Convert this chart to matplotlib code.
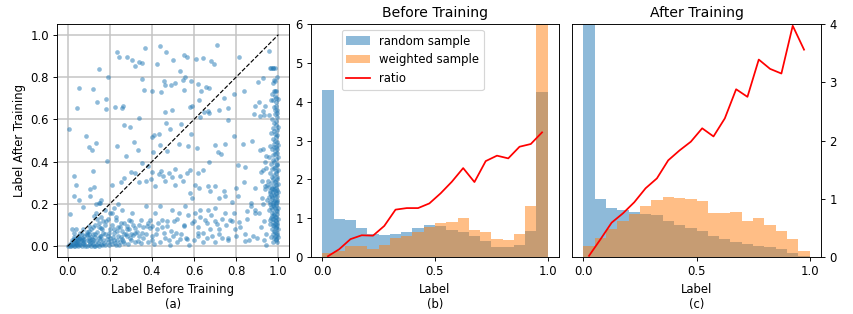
import numpy as np
import matplotlib
matplotlib.use("Agg")
from matplotlib import pyplot as plt

# bin edges shared by both histograms (20 bins over [0, 1])
bin_edges = np.linspace(0, 1, 21)

# before training: density of random / weighted sample and their ratio
before_random = [4.31, 0.98, 0.95, 0.75, 0.58, 0.57, 0.59, 0.64, 0.75, 0.83,
                 0.80, 0.70, 0.65, 0.55, 0.40, 0.27, 0.27, 0.31, 0.68, 4.26]
before_weighted = [0.10, 0.15, 0.29, 0.29, 0.21, 0.31, 0.50, 0.55, 0.65, 0.76,
                   0.88, 0.91, 1.01, 0.70, 0.65, 0.47, 0.44, 0.60, 1.32, 9.21]
before_ratio = [0.02, 0.20, 0.46, 0.56, 0.55, 0.80, 1.22, 1.26, 1.26, 1.38,
                1.64, 1.94, 2.29, 1.93, 2.47, 2.61, 2.54, 2.84, 2.91, 3.21]

# after training
after_random = [11.28, 1.00, 0.84, 0.81, 0.77, 0.74, 0.72, 0.62, 0.55, 0.50,
                0.44, 0.36, 0.31, 0.26, 0.22, 0.19, 0.17, 0.14, 0.07, 0.01]
after_weighted = [0.19, 0.33, 0.48, 0.61, 0.74, 0.88, 0.98, 1.03, 1.01, 1.00,
                  0.96, 0.76, 0.76, 0.77, 0.62, 0.67, 0.55, 0.45, 0.31, 0.10]
after_ratio = [0.02, 0.30, 0.59, 0.75, 0.94, 1.18, 1.35, 1.66, 1.83, 1.98,
               2.21, 2.07, 2.38, 2.88, 2.75, 3.39, 3.23, 3.15, 3.97, 3.56]

# label of each sample before vs after training
scatter_pts = [
    # upper area
    (0.236, 0.917), (0.244, 0.896), (0.280, 0.892), (0.307, 0.881), (0.322, 0.852),
    (0.341, 0.873), (0.355, 0.865), (0.365, 0.939), (0.437, 0.945), (0.425, 0.860),
    (0.469, 0.917), (0.498, 0.881), (0.552, 0.904), (0.568, 0.896), (0.608, 0.885),
    (0.643, 0.889), (0.679, 0.876), (0.696, 0.860), (0.709, 0.953), (0.814, 0.896),
    (0.953, 0.923), (0.151, 0.837), (0.193, 0.798), (0.355, 0.790), (0.363, 0.739),
    (0.399, 0.736), (0.445, 0.727), (0.459, 0.782), (0.464, 0.763), (0.491, 0.761),
    (0.511, 0.771), (0.535, 0.829), (0.549, 0.787), (0.558, 0.802), (0.553, 0.739),
    (0.586, 0.782), (0.618, 0.769), (0.632, 0.736), (0.656, 0.752), (0.670, 0.747),
    (0.741, 0.699), (0.791, 0.719), (0.836, 0.733), (0.903, 0.774), (0.928, 0.796),
    (0.959, 0.843), (0.975, 0.843), (0.981, 0.787), (0.984, 0.736), (0.053, 0.750),
    (0.119, 0.741), (0.046, 0.652), (0.006, 0.554), (0.138, 0.680), (0.182, 0.648),
    (0.184, 0.697), (0.225, 0.656), (0.256, 0.653), (0.261, 0.662), (0.267, 0.573),
    (0.296, 0.565), (0.340, 0.608), (0.401, 0.518), (0.410, 0.527), (0.432, 0.532),
    (0.464, 0.636), (0.469, 0.582), (0.484, 0.556), (0.495, 0.642), (0.539, 0.578),
    (0.580, 0.658), (0.586, 0.532), (0.590, 0.664), (0.624, 0.692), (0.626, 0.611),
    (0.648, 0.633), (0.664, 0.641), (0.671, 0.630), (0.717, 0.645), (0.759, 0.653),
    (0.759, 0.598), (0.788, 0.523), (0.832, 0.485), (0.873, 0.498), (0.885, 0.623),
    (0.890, 0.661), (0.914, 0.614), (0.907, 0.680), (0.936, 0.661),
    (0.925, 0.640), (0.930, 0.620),
    # middle band
    (0.134, 0.488), (0.102, 0.468), (0.086, 0.520), (0.115, 0.457), (0.123, 0.355),
    (0.186, 0.402), (0.234, 0.476), (0.278, 0.425), (0.313, 0.491), (0.335, 0.457),
    (0.355, 0.394), (0.381, 0.378), (0.404, 0.444), (0.439, 0.480), (0.472, 0.449),
    (0.527, 0.483), (0.569, 0.472), (0.612, 0.465), (0.670, 0.397), (0.701, 0.477),
    (0.715, 0.446), (0.728, 0.438), (0.747, 0.485), (0.807, 0.383), (0.841, 0.375),
    (0.912, 0.454), (0.925, 0.462), (0.943, 0.425),
    (0.030, 0.331), (0.038, 0.292), (0.031, 0.237), (0.055, 0.221), (0.105, 0.237),
    (0.105, 0.272), (0.126, 0.279), (0.074, 0.187), (0.137, 0.198), (0.157, 0.221),
    (0.156, 0.206), (0.212, 0.292), (0.252, 0.303), (0.267, 0.323), (0.299, 0.352),
    (0.321, 0.347), (0.338, 0.303), (0.373, 0.308), (0.401, 0.350), (0.398, 0.319),
    (0.417, 0.284), (0.435, 0.342), (0.445, 0.355), (0.453, 0.331), (0.461, 0.308),
    (0.483, 0.347), (0.495, 0.328), (0.511, 0.367), (0.508, 0.292), (0.535, 0.334),
    (0.546, 0.308), (0.566, 0.347), (0.579, 0.360), (0.582, 0.253), (0.590, 0.229),
    (0.605, 0.289), (0.618, 0.347), (0.621, 0.276), (0.640, 0.360), (0.664, 0.287),
    (0.675, 0.261), (0.700, 0.284), (0.719, 0.229), (0.744, 0.261), (0.747, 0.237),
    (0.778, 0.209), (0.797, 0.276), (0.807, 0.237), (0.835, 0.303), (0.868, 0.206),
    (0.887, 0.276), (0.890, 0.171), (0.920, 0.229), (0.928, 0.360), (0.936, 0.284),
    (0.946, 0.221), (0.915, 0.350), (0.920, 0.310), (0.935, 0.400), (0.940, 0.370),
    (0.945, 0.290), (0.935, 0.270), (0.925, 0.200),
    # lower band
    (0.013, 0.151), (0.020, 0.080), (0.031, 0.064), (0.039, 0.080), (0.055, 0.041),
    (0.071, 0.080), (0.090, 0.057), (0.102, 0.096), (0.126, 0.143), (0.134, 0.159),
    (0.149, 0.206), (0.149, 0.111), (0.165, 0.080), (0.181, 0.119), (0.197, 0.064),
    (0.212, 0.159), (0.220, 0.080), (0.228, 0.127), (0.236, 0.072), (0.252, 0.111),
    (0.259, 0.174), (0.267, 0.057), (0.283, 0.080), (0.291, 0.127), (0.299, 0.057),
    (0.307, 0.159), (0.322, 0.064), (0.335, 0.025), (0.346, 0.127), (0.354, 0.064),
    (0.370, 0.190), (0.377, 0.096), (0.393, 0.127), (0.401, 0.049), (0.417, 0.159),
    (0.425, 0.080), (0.440, 0.190), (0.448, 0.127), (0.456, 0.064), (0.472, 0.096),
    (0.487, 0.009), (0.495, 0.174), (0.503, 0.119), (0.514, 0.064), (0.527, 0.159),
    (0.535, 0.033), (0.550, 0.096), (0.558, 0.190), (0.566, 0.033), (0.577, 0.005),
    (0.590, 0.111), (0.605, 0.159), (0.618, 0.064), (0.629, 0.174), (0.640, 0.064),
    (0.653, 0.127), (0.665, 0.174), (0.676, 0.080), (0.687, 0.049), (0.700, 0.119),
    (0.708, 0.104), (0.719, 0.080), (0.731, 0.041), (0.747, 0.159), (0.759, 0.041),
    (0.770, 0.127), (0.791, 0.159), (0.794, 0.080), (0.813, 0.115), (0.841, 0.025),
    (0.849, 0.166), (0.881, 0.049), (0.888, 0.159), (0.915, 0.093), (0.943, 0.009),
    (0.959, 0.127),
    (0.18, 0.06), (0.20, 0.04), (0.22, 0.03), (0.24, 0.05), (0.26, 0.035),
    (0.28, 0.05), (0.30, 0.03), (0.32, 0.02), (0.34, 0.05), (0.36, 0.04),
    (0.38, 0.02), (0.40, 0.03), (0.42, 0.06), (0.44, 0.02), (0.46, 0.04),
    (0.48, 0.03), (0.50, 0.05), (0.52, 0.02), (0.54, 0.06), (0.56, 0.04),
    (0.60, 0.03), (0.62, 0.05), (0.64, 0.02), (0.66, 0.04), (0.70, 0.02),
    (0.72, 0.06), (0.76, 0.03), (0.80, 0.05), (0.84, 0.06), (0.86, 0.03),
    (0.90, 0.04),
    (0.52, 0.13), (0.55, 0.10), (0.57, 0.15), (0.60, 0.12), (0.62, 0.09),
    (0.63, 0.14), (0.66, 0.11), (0.68, 0.15), (0.70, 0.18), (0.73, 0.13),
    (0.75, 0.10), (0.78, 0.12), (0.82, 0.09), (0.85, 0.13), (0.87, 0.19),
    (0.91, 0.16), (0.93, 0.12), (0.94, 0.06), (0.93, 0.03),
    # cluster near the origin
    (0.00, 0.00), (0.01, 0.00), (0.02, 0.005), (0.03, 0.00), (0.04, 0.01),
    (0.05, 0.00), (0.06, 0.005), (0.07, 0.00), (0.08, 0.01), (0.09, 0.00),
    (0.10, 0.005), (0.11, 0.00), (0.12, 0.01), (0.13, 0.00), (0.14, 0.005),
    (0.15, 0.00), (0.16, 0.01), (0.18, 0.005), (0.02, 0.02), (0.04, 0.03),
    (0.06, 0.02), (0.08, 0.035), (0.10, 0.025), (0.12, 0.03), (0.03, 0.045),
    (0.05, 0.05), (0.07, 0.04), (0.09, 0.055), (0.11, 0.045), (0.13, 0.06),
    (0.15, 0.04), (0.17, 0.03), (0.19, 0.02), (0.21, 0.01), (0.23, 0.005),
    (0.25, 0.02), (0.27, 0.015), (0.01, 0.01), (0.035, 0.015), (0.045, 0.005),
    (0.05, 0.03), (0.07, 0.06), (0.09, 0.07), (0.11, 0.08), (0.13, 0.10),
    (0.15, 0.09), (0.17, 0.12), (0.19, 0.13), (0.21, 0.10), (0.23, 0.14),
    (0.14, 0.13), (0.12, 0.06), (0.16, 0.05), (0.08, 0.02), (0.10, 0.04),
    (0.06, 0.04), (0.04, 0.02), (0.20, 0.08), (0.25, 0.09), (0.27, 0.11),
    (0.29, 0.08), (0.31, 0.10),
    (0.015, 0.003), (0.025, 0.012), (0.035, 0.002), (0.045, 0.020), (0.055, 0.012),
    (0.065, 0.028), (0.075, 0.015), (0.085, 0.004), (0.095, 0.030), (0.105, 0.015),
    (0.115, 0.020), (0.125, 0.002), (0.135, 0.025), (0.145, 0.015), (0.155, 0.030),
    (0.165, 0.005), (0.175, 0.018), (0.185, 0.035), (0.195, 0.008), (0.205, 0.025),
    (0.215, 0.045), (0.225, 0.015), (0.235, 0.030), (0.245, 0.008), (0.255, 0.045),
    (0.265, 0.025), (0.275, 0.060), (0.285, 0.012), (0.295, 0.040), (0.310, 0.055),
    (0.330, 0.070), (0.350, 0.015), (0.370, 0.060), (0.390, 0.085), (0.410, 0.012),
    (0.060, 0.065), (0.080, 0.050), (0.100, 0.075), (0.120, 0.090), (0.140, 0.070),
    (0.160, 0.085), (0.180, 0.100), (0.100, 0.060), (0.130, 0.045), (0.170, 0.065),
    (0.190, 0.050), (0.220, 0.065), (0.240, 0.090), (0.260, 0.075), (0.280, 0.095),
    (0.300, 0.120), (0.320, 0.085), (0.340, 0.100), (0.360, 0.090), (0.380, 0.110),
    (0.400, 0.095), (0.430, 0.110), (0.450, 0.090), (0.470, 0.120), (0.490, 0.075),
    (0.030, 0.035), (0.045, 0.040), (0.020, 0.030), (0.075, 0.030), (0.115, 0.035),
    (0.155, 0.050), (0.200, 0.160), (0.220, 0.180), (0.240, 0.200), (0.180, 0.170),
    (0.160, 0.140),
    # dense column near 1.0
    (0.965, 0.842), (0.975, 0.842), (0.985, 0.842), (0.995, 0.80), (0.985, 0.78),
    (0.975, 0.77), (0.98, 0.735), (0.99, 0.735), (0.965, 0.69), (0.975, 0.69),
    (0.99, 0.70), (0.99, 0.665), (0.98, 0.66), (0.995, 0.645), (0.955, 0.62),
    (0.985, 0.625), (0.995, 0.61), (0.97, 0.60), (0.98, 0.585), (0.99, 0.575),
    (0.975, 0.56), (0.995, 0.55), (0.965, 0.535), (0.985, 0.53), (0.99, 0.515),
    (0.975, 0.505), (0.995, 0.495), (0.98, 0.485), (0.96, 0.475), (0.99, 0.47),
    (0.97, 0.46), (0.985, 0.45), (0.995, 0.44), (0.975, 0.43), (0.955, 0.42),
    (0.99, 0.415), (0.98, 0.40), (0.965, 0.39), (0.995, 0.385), (0.985, 0.375),
    (0.97, 0.365), (0.99, 0.355), (0.96, 0.345), (0.98, 0.335), (0.995, 0.33),
    (0.975, 0.32), (0.95, 0.31), (0.965, 0.30), (0.985, 0.305), (0.99, 0.29),
    (0.955, 0.28), (0.97, 0.275), (0.98, 0.27), (0.995, 0.265), (0.96, 0.26),
    (0.975, 0.255), (0.99, 0.25), (0.965, 0.245), (0.985, 0.24), (0.955, 0.235),
    (0.97, 0.225), (0.995, 0.22), (0.98, 0.215), (0.96, 0.21), (0.99, 0.205),
    (0.975, 0.195), (0.965, 0.185), (0.985, 0.18), (0.955, 0.17), (0.995, 0.165),
    (0.97, 0.16), (0.98, 0.15), (0.99, 0.14), (0.965, 0.135), (0.985, 0.125),
    (0.975, 0.115), (0.995, 0.11), (0.96, 0.105), (0.98, 0.095), (0.99, 0.085),
    (0.97, 0.08), (0.985, 0.07), (0.975, 0.06), (0.995, 0.055), (0.965, 0.045),
    (0.98, 0.04), (0.99, 0.03), (0.975, 0.02),
    (0.993, 0.020), (0.987, 0.035), (0.997, 0.045), (0.982, 0.050), (0.992, 0.065),
    (0.978, 0.075), (0.996, 0.080), (0.988, 0.090), (0.972, 0.100), (0.994, 0.100),
    (0.983, 0.108), (0.990, 0.120), (0.975, 0.130), (0.996, 0.130), (0.986, 0.140),
    (0.968, 0.145), (0.993, 0.155), (0.978, 0.160), (0.988, 0.170), (0.970, 0.175),
    (0.996, 0.180), (0.980, 0.190), (0.990, 0.195), (0.960, 0.200), (0.975, 0.205),
    (0.994, 0.210), (0.985, 0.220), (0.970, 0.235), (0.992, 0.238), (0.980, 0.245),
    (0.960, 0.250), (0.996, 0.255), (0.985, 0.262), (0.970, 0.270), (0.990, 0.278),
    (0.978, 0.285), (0.996, 0.295), (0.982, 0.310), (0.993, 0.320), (0.970, 0.330),
    (0.987, 0.345), (0.996, 0.360), (0.980, 0.370), (0.992, 0.390), (0.975, 0.410),
    (0.996, 0.420), (0.985, 0.435), (0.992, 0.460), (0.980, 0.470), (0.996, 0.480),
    (0.985, 0.500), (0.993, 0.525), (0.980, 0.545), (0.996, 0.565), (0.988, 0.590),
    (0.993, 0.630), (0.985, 0.645), (0.990, 0.680), (0.996, 0.695), (0.985, 0.710),
    (0.970, 0.720),
]

if __name__ == "__main__":
    scatter_x = np.array([p[0] for p in scatter_pts])
    scatter_y = np.array([p[1] for p in scatter_pts])
    bin_left = bin_edges[:-1]
    bin_width = np.diff(bin_edges)
    bin_center = bin_left + bin_width / 2

    fig = plt.figure(figsize=(853 / 84, 314 / 84), dpi=84)
    ax1 = fig.add_axes([0.0668, 0.1815, 0.272, 0.742])
    ax2 = fig.add_axes([0.3646, 0.1815, 0.2907, 0.742])
    ax3 = fig.add_axes([0.6706, 0.1815, 0.2919, 0.742])

    # (a) scatter of labels
    ax1.scatter(scatter_x, scatter_y, s=16, alpha=0.5, color="C0", linewidths=0)
    ax1.plot([0, 1], [0, 1], "k--", lw=1)
    ax1.grid(color="#c4c4c4", lw=1.3)
    ax1.set_axisbelow(True)
    ax1.set_xticks(np.arange(0, 1.01, 0.2))
    ax1.set_yticks(np.arange(0, 1.01, 0.2))
    ax1.set_xlabel("Label Before Training\n(a)")
    ax1.set_ylabel("Label After Training")

    # (b) before training
    b1 = ax2.bar(bin_left, before_random, width=bin_width, align="edge", color="C0",
                 alpha=0.5, label="random sample")
    b2 = ax2.bar(bin_left, before_weighted, width=bin_width, align="edge", color="C1",
                 alpha=0.5, label="weighted sample")
    l1, = ax2.plot(bin_center, before_ratio, color="red", label="ratio")
    ax2.set_ylim(0, 6)
    ax2.set_xticks([0.0, 0.5, 1.0])
    ax2.set_title("Before Training")
    ax2.set_xlabel("Label\n(b)")
    ax2.legend(handles=[b1, b2, l1], loc="upper left", bbox_to_anchor=(0.1, 1.0))

    # (c) after training
    ax3.bar(bin_left, after_random, width=bin_width, align="edge", color="C0",
            alpha=0.5)
    ax3.bar(bin_left, after_weighted, width=bin_width, align="edge", color="C1",
            alpha=0.5)
    ax3.plot(bin_center, after_ratio, color="red")
    ax3.set_ylim(0, 4)
    ax3.set_yticks([0, 1, 2, 3, 4])
    ax3.yaxis.tick_right()
    ax3.set_xticks([0.0, 0.5, 1.0])
    ax3.set_title("After Training")
    ax3.set_xlabel("Label\n(c)")

    plt.savefig("out.png", dpi=84)
